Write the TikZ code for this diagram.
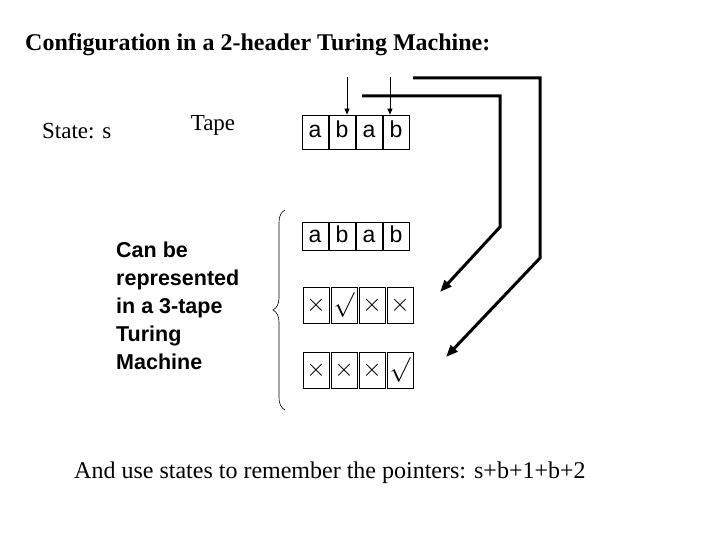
\documentclass[tikz,border=0pt]{standalone}
\usepackage{fontspec}
\setmainfont{Liberation Serif}
\newfontfamily\sansf{Liberation Sans}
\usetikzlibrary{arrows.meta,decorations.pathreplacing}

\begin{document}
\begin{tikzpicture}[x=1pt, y=-1pt,
    cell/.style={rectangle, draw, line width=0.8pt, minimum width=26pt, minimum height=34pt, inner sep=0pt, text height=14pt, text depth=2pt, font=\sansf\fontsize{23}{23}\selectfont},
    pointer/.style={-{Triangle[length=6pt,width=5pt]}, line width=0.7pt},
    link/.style={-{Triangle[length=12pt,width=9pt]}, line width=3pt},
    label/.style={anchor=west, inner sep=0pt, font=\fontsize{23}{23}\selectfont}
]
\useasboundingbox (0,0) rectangle (720,540);

\node[label, font=\bfseries\fontsize{24}{24}\selectfont] (title) at (25,45) {Configuration in a 2-header Turing Machine:};
\node[label] (state) at (42,131) {State: s};
\node[label, anchor=center] (tape) at (213,125) {Tape};
\node[anchor=north west, align=left, inner sep=0pt, font=\sansf\bfseries\fontsize{21.5}{28}\selectfont] (note) at (116,242) {Can be\\represented\\in a 3-tape\\Turing\\Machine};

% tapes
\foreach \s [count=\i] in {a,b,a,b}
  \node[cell] (t\i) at (288+27*\i,132) {\s};
\foreach \s [count=\i] in {a,b,a,b}
  \node[cell, minimum height=28pt] (u\i) at (288+27*\i,236) {\s};
\foreach \s [count=\i] in {$\times$,$\surd$,$\times$,$\times$}
  \node[cell, minimum height=36pt] (v\i) at (288+28*\i,305) {\s};
\foreach \s [count=\i] in {$\times$,$\times$,$\times$,$\surd$}
  \node[cell, minimum height=36pt] (w\i) at (288+28*\i,370) {\s};

% heads
\coordinate (h1) at (347,77);
\coordinate (h2) at (390,77);
\draw[pointer] (h1) -- (t2.north east -| h1);
\draw[pointer] (h2) -- (t4.north -| h2);

% links to the new tapes
\coordinate (a1) at (362,96);
\coordinate (a2) at (500,96);
\coordinate (a3) at (500,227);
\coordinate (a4) at (440,292);
\coordinate (b1) at (413,78);
\coordinate (b2) at (540,78);
\coordinate (b3) at (540,258);
\coordinate (b4) at (446,357);
\draw[link] (a1) -- (a2) -- (a3) -- (a4);
\draw[link] (b1) -- (b2) -- (b3) -- (b4);

% brace
\coordinate (br1) at (285,410);
\coordinate (br2) at (285,210);
\draw[decorate, decoration={brace, amplitude=12pt}, line width=0.6pt] (br1) -- (br2);

\node[label, font=\fontsize{24}{24}\selectfont] (bottom) at (74,473) {And use states to remember the pointers: s+b+1+b+2};
\end{tikzpicture}
\end{document}
